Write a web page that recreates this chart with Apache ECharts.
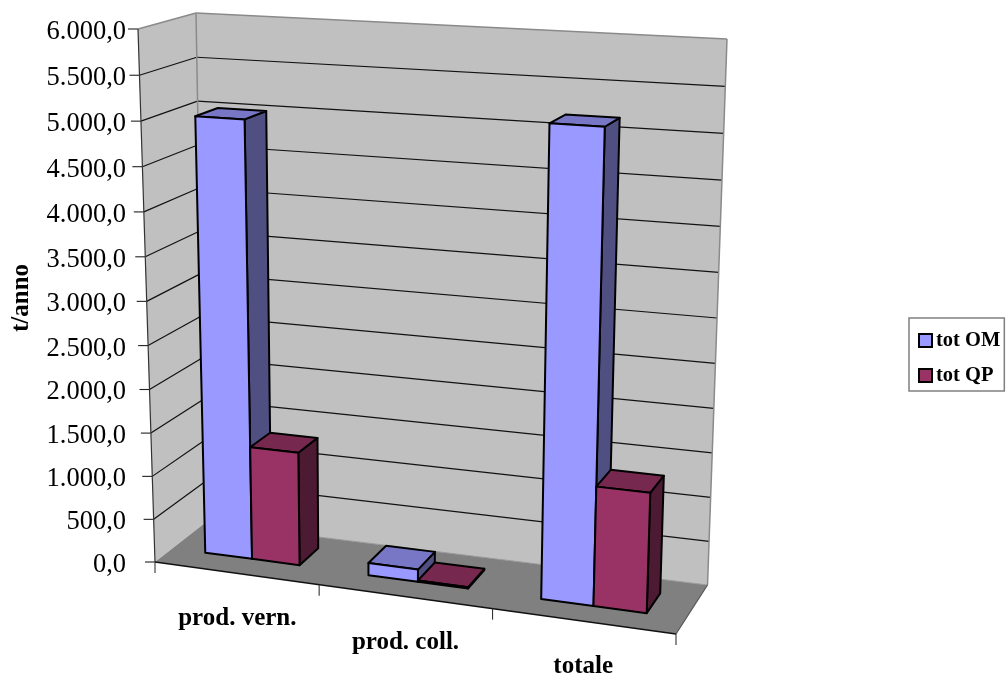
<!DOCTYPE html>
<html><head><meta charset="utf-8">
<style>html,body{margin:0;padding:0;background:#fff}#c{width:1007px;height:675px}</style>
<script src="https://cdn.jsdelivr.net/npm/echarts@6/dist/echarts.min.js"></script>
</head><body><div id="c"></div>
<script>
const categories = ['prod. vern.', 'prod. coll.', 'totale'];
const totOM = [5000, 140, 5170];
const totQP = [1305, 15, 1325];
const yTicks = [0, 500, 1000, 1500, 2000, 2500, 3000, 3500, 4000, 4500, 5000, 5500, 6000];
const yTickLabels = ['0,0', '500,0', '1.000,0', '1.500,0', '2.000,0', '2.500,0', '3.000,0', '3.500,0', '4.000,0', '4.500,0', '5.000,0', '5.500,0', '6.000,0'];

const FONT = '"Liberation Serif","Times New Roman",serif';
const G = {left: 155, top: 29, width: 521, height: 533};
// box corners on screen: front/back, left/right, bottom/top
const C = {
  flb: [155, 562], flt: [138, 29], blb: [205, 523], blt: [196, 13],
  frb: [676, 634], frt: [695, 57], brb: [707.5, 585], brt: [727, 39]
};
const warpU = u => .92 * u / (1 - .08 * u);
const warpH = h => .957 * h / (1 - .043 * h);
const mix = (a, b, t) => [a[0] + (b[0] - a[0]) * t, a[1] + (b[1] - a[1]) * t];
function P(u, d, h) {
  const U = warpU(u), H = warpH(h);
  const bl = mix(mix(C.flb, C.blb, d), mix(C.frb, C.brb, d), U);
  const tl = mix(mix(C.flt, C.blt, d), mix(C.frt, C.brt, d), U);
  return mix(bl, tl, H);
}
const norm = (pt, cs) => [(pt[0] - cs.x) / cs.width, (cs.y + cs.height - pt[1]) / cs.height];
const poly = (points, fill, stroke, lw) => ({type: 'polygon', shape: {points}, style: {fill, stroke: stroke || null, lineWidth: lw || 0}});
const line = (a, b, stroke, lw) => ({type: 'line', shape: {x1: a[0], y1: a[1], x2: b[0], y2: b[1]}, style: {stroke, lineWidth: lw}});

function renderFrame(params, api) {
  const cs = params.coordSys, kids = [];
  kids.push(poly([P(0,0,1), P(0,1,1), P(0,1,0), P(0,0,0)], '#C0C0C0'));
  kids.push(poly([P(0,1,1), P(1,1,1), P(1,1,0), P(0,1,0)], '#C0C0C0'));
  kids.push(poly([P(0,0,0), P(0,1,0), P(1,1,0), P(1,0,0)], '#808080'));
  yTicks.forEach(v => {
    const h = norm(api.coord([0, v]), cs)[1];
    if (v > 0 && v < 6000) {
      kids.push(line(P(0,0,h), P(0,1,h), '#111', 1.2));
      kids.push(line(P(0,1,h), P(1,1,h), '#111', 1.2));
    }
    const a = P(0,0,h);
    kids.push(line([a[0] - 10, a[1]], a, '#222', 1.1));
  });
  const gray = '#8a8a8a';
  kids.push(line(P(0,0,1), P(0,1,1), gray, 1.5));
  kids.push(line(P(0,1,1), P(1,1,1), gray, 1.5));
  kids.push(line(P(0,1,1), P(0,1,0), gray, 1.5));
  kids.push(line(P(1,1,1), P(1,1,0), gray, 1.5));
  kids.push(line(P(0,1,0), P(1,1,0), '#9a9a9a', 1));
  kids.push(line(P(1,0,0), P(1,1,0), '#555', 1.2));
  kids.push(line(P(0,0,1), P(0,0,0), '#333', 1.2));
  kids.push(line(P(0,0,0), P(1,0,0), '#111', 1.4));
  categories.concat(['']).forEach((c, i) => {
    const a = P(i / categories.length, 0, 0);
    kids.push(line(a, [a[0], a[1] + 11], '#333', 1.1));
  });
  return {type: 'group', children: kids};
}

const BAR_W = .097, SHIFT = -.001, D0 = .36, D1 = .77, D_DRIFT = .05;
const makeBars = (idx, front, top, side) => (params, api) => {
  const cs = params.coordSys;
  const cat = api.value(0), val = api.value(1);
  const centre = norm(api.coord([cat, 0]), cs)[0];
  const h = norm(api.coord([cat, val]), cs)[1];
  const band = api.size([1, 0])[0] / cs.width;
  const w = band * BAR_W * categories.length;
  const uL = centre + (idx - 1) * w + SHIFT, uR = uL + w;
  const d0 = D0 - D_DRIFT * centre, d1 = D1 - D_DRIFT * centre;
  const st = {stroke: '#000', lineWidth: 2, lineJoin: 'round'};
  const mk = (points, fill) => ({type: 'polygon', shape: {points}, style: Object.assign({fill}, st)});
  return {type: 'group', children: [
    mk([P(uR,d0,0), P(uR,d1,0), P(uR,d1,h), P(uR,d0,h)], side),
    mk([P(uL,d0,h), P(uL,d1,h), P(uR,d1,h), P(uR,d0,h)], top),
    mk([P(uL,d0,0), P(uR,d0,0), P(uR,d0,h), P(uL,d0,h)], front)
  ]};
};

// tick labels follow the box's front-left edge, which is slightly non-linear
const labelRich = {};
yTicks.forEach((v, i) => {
  const h = v / 6000;
  const off = Math.max(0, h - warpH(h)) * G.height;
  labelRich['t' + i] = {fontFamily: FONT, fontSize: 26.5, color: '#000', padding: [2 * off + 6, 0, 0, 0], align: 'right'};
});
const xPads = [[0, 9], [24, 20], [48, 12]];
const xRich = {};
xPads.forEach((p, i) => {
  xRich['c' + i] = {fontFamily: FONT, fontSize: 25, fontWeight: 'bold', color: '#000', padding: [p[0], p[1], 0, 0]};
});

const chart = echarts.init(document.getElementById('c'), null, {renderer: 'canvas'});
chart.setOption({
  animation: false,
  backgroundColor: '#fff',
  grid: {left: G.left, top: G.top, width: G.width, height: G.height, containLabel: false, outerBoundsMode: 'none'},
  xAxis: {
    type: 'category', data: categories,
    axisLine: {show: false}, axisTick: {show: false}, splitLine: {show: false},
    axisLabel: {
      interval: 0, margin: 44, verticalAlign: 'top', hideOverlap: false,
      formatter: (v) => '{c' + categories.indexOf(v) + '|' + v + '}', rich: xRich
    }
  },
  yAxis: {
    type: 'value', min: 0, max: 6000, interval: 500,
    name: 't/anno', nameLocation: 'middle', nameGap: 121, nameRotate: 90,
    nameTextStyle: {fontFamily: FONT, fontSize: 25, fontWeight: 'bold', color: '#000', padding: [0, 5, 0, 0]},
    axisLine: {show: false}, axisTick: {show: false}, splitLine: {show: false},
    axisLabel: {
      margin: 29, hideOverlap: false,
      formatter: (v) => { const i = yTicks.indexOf(v); return '{t' + i + '|' + yTickLabels[i] + '}'; },
      rich: labelRich
    }
  },
  legend: {
    orient: 'vertical', left: 909, top: 318, data: ['tot OM', 'tot QP'],
    backgroundColor: '#fff', borderColor: '#808080', borderWidth: 1.5,
    padding: [12, 4, 5, 9], itemGap: 14, itemWidth: 13, itemHeight: 13, icon: 'rect',
    itemStyle: {borderColor: '#000', borderWidth: 2},
    textStyle: {fontFamily: FONT, fontSize: 20.5, fontWeight: 'bold', color: '#000', padding: [0, 0, 0, -1]}
  },
  series: [
    {type: 'custom', name: 'frame', silent: true, z: 1, clip: false, coordinateSystem: 'cartesian2d',
     data: [[0, 0]], renderItem: renderFrame},
    {type: 'custom', name: 'tot OM', z: 2, clip: false, itemStyle: {color: '#9999FF'},
     data: totOM.map((v, i) => [i, v]), encode: {x: 0, y: 1},
     renderItem: makeBars(0, '#9999FF', '#7777C6', '#4F4F82')},
    {type: 'custom', name: 'tot QP', z: 3, clip: false, itemStyle: {color: '#993366'},
     data: totQP.map((v, i) => [i, v]), encode: {x: 0, y: 1},
     renderItem: makeBars(1, '#993366', '#77284F', '#4D1A33')}
  ]
});
</script></body></html>
